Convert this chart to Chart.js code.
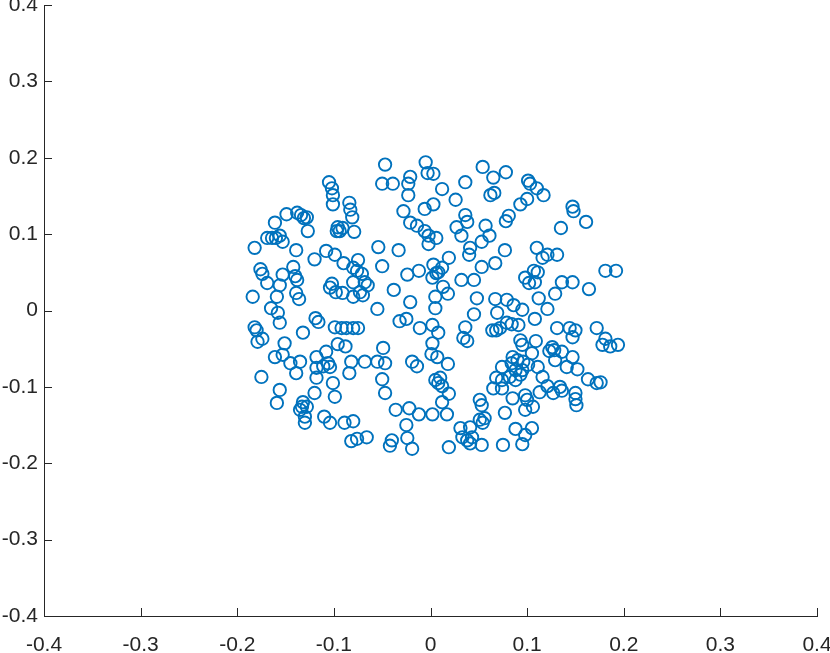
<!DOCTYPE html>
<html>
<head>
<meta charset="utf-8">
<script src="https://cdn.jsdelivr.net/npm/chart.js@4.4.1/dist/chart.umd.min.js"></script>
<style>
  html, body { margin: 0; padding: 0; background: #fff; overflow: hidden; }
  #wrap { position: absolute; left: 0; top: -20px; width: 860px; height: 673px; }
</style>
</head>
<body>
<div id="wrap"><canvas id="chart"></canvas></div>
<script>
// scatter values
const xValues = [
  -0.105, -0.102, -0.101, -0.101, -0.084, -0.083, -0.081, -0.096, -0.094, -0.097,
  -0.091, -0.079, -0.149, -0.138, -0.134, -0.131, -0.128, -0.161, -0.127, -0.169,
  -0.164, -0.160, -0.156, -0.153, -0.182, -0.139, -0.120, -0.108, -0.099, -0.090,
  -0.075, -0.080, -0.076, -0.071, -0.080, -0.068, -0.065, -0.073, -0.176, -0.174,
  -0.169, -0.153, -0.156, -0.142, -0.140, -0.138, -0.184, -0.159, -0.139, -0.136,
  -0.102, -0.104, -0.098, -0.091, -0.080, -0.070, -0.047, -0.005, -0.003, 0.003,
  0.054, 0.065, -0.050, -0.039, -0.021, -0.023, -0.023, 0.012, 0.036, 0.026,
  0.062, 0.066, -0.028, -0.006, 0.003, -0.021, -0.014, -0.006, -0.002, 0.006,
  -0.002, 0.036, 0.038, 0.027, 0.032, 0.057, 0.061, 0.053, 0.041, 0.040,
  -0.054, -0.033, -0.050, 0.019, 0.003, 0.008, 0.012, 0.002, 0.006, -0.024,
  -0.012, 0.013, 0.018, 0.005, 0.032, 0.045, 0.053, 0.067, -0.038, -0.021,
  0.048, 0.067, 0.078, 0.101, 0.103, 0.110, 0.117, 0.100, 0.093, 0.081,
  0.078, 0.147, 0.148, 0.161, 0.135, 0.077, 0.110, 0.116, 0.121, 0.131,
  0.111, 0.107, 0.098, 0.102, 0.108, 0.136, 0.147, 0.164, 0.129, 0.112,
  0.181, 0.192, 0.079, -0.165, -0.158, -0.156, -0.182, -0.180, -0.179, -0.174,
  -0.132, -0.119, -0.116, -0.099, -0.092, -0.087, -0.080, -0.075, -0.096, -0.088,
  -0.151, -0.161, -0.153, -0.145, -0.135, -0.139, -0.118, -0.108, -0.106, -0.104,
  -0.111, -0.118, -0.118, -0.082, -0.084, -0.068, -0.175, -0.156, -0.159, -0.120,
  -0.101, -0.099, -0.132, -0.133, -0.128, -0.135, -0.130, -0.130, -0.110, -0.104,
  -0.089, -0.080, -0.082, -0.076, -0.066, -0.055, 0.005, -0.032, -0.025, -0.011,
  0.002, 0.008, 0.002, 0.001, 0.007, 0.018, 0.036, 0.034, 0.038, 0.045,
  0.064, 0.068, 0.072, 0.069, -0.049, -0.055, -0.047, -0.019, -0.014, -0.050,
  -0.047, 0.005, 0.010, 0.012, 0.008, 0.019, 0.012, 0.017, 0.002, -0.012,
  -0.022, -0.036, -0.025, -0.024, -0.019, -0.040, -0.042, 0.019, 0.031, 0.041,
  0.033, 0.038, 0.043, 0.041, 0.053, 0.051, 0.053, 0.056, 0.054, 0.051,
  0.065, 0.068, 0.074, 0.074, 0.086, 0.095, 0.121, 0.108, 0.079, 0.084,
  0.091, 0.131, 0.144, 0.150, 0.147, 0.172, 0.181, 0.178, 0.186, 0.194,
  0.093, 0.095, 0.109, 0.126, 0.128, 0.136, 0.123, 0.105, 0.085, 0.090,
  0.096, 0.084, 0.088, 0.095, 0.101, 0.129, 0.147, 0.141, 0.152, 0.111,
  0.074, 0.082, 0.088, 0.093, 0.116, 0.121, 0.113, 0.127, 0.134, 0.136,
  0.163, 0.172, 0.176, 0.150, 0.150, 0.151, 0.085, 0.098, 0.100, 0.098,
  0.106, 0.077, 0.088, 0.105, 0.098, 0.095, 0.075
];
const yValues = [
  0.168, 0.160, 0.151, 0.139, 0.141, 0.132, 0.122, 0.109, 0.104, 0.104,
  0.108, 0.103, 0.126, 0.128, 0.125, 0.121, 0.122, 0.115, 0.104, 0.095,
  0.095, 0.095, 0.098, 0.090, 0.082, 0.079, 0.067, 0.078, 0.073, 0.062,
  0.066, 0.056, 0.052, 0.048, 0.037, 0.037, 0.033, 0.024, 0.054, 0.048,
  0.036, 0.047, 0.033, 0.057, 0.045, 0.040, 0.018, 0.018, 0.023, 0.015,
  0.035, 0.030, 0.024, 0.023, 0.018, 0.020, 0.191, 0.194, 0.180, 0.179,
  0.188, 0.174, 0.166, 0.166, 0.175, 0.166, 0.151, 0.159, 0.168, 0.145,
  0.151, 0.154, 0.130, 0.133, 0.139, 0.115, 0.111, 0.104, 0.098, 0.095,
  0.087, 0.125, 0.116, 0.109, 0.098, 0.111, 0.098, 0.090, 0.082, 0.073,
  0.083, 0.079, 0.058, 0.069, 0.060, 0.050, 0.056, 0.043, 0.049, 0.047,
  0.052, 0.031, 0.022, 0.018, 0.040, 0.040, 0.057, 0.062, 0.027, 0.011,
  0.016, 0.015, 0.181, 0.170, 0.166, 0.160, 0.151, 0.146, 0.139, 0.124,
  0.117, 0.136, 0.130, 0.116, 0.108, 0.079, 0.082, 0.069, 0.073, 0.073,
  0.050, 0.052, 0.043, 0.036, 0.037, 0.037, 0.037, 0.028, 0.022, 0.016,
  0.052, 0.052, 0.014, 0.003, -0.003, -0.016, -0.022, -0.026, -0.041, -0.037,
  -0.029, -0.010, -0.015, -0.022, -0.023, -0.023, -0.023, -0.023, -0.044, -0.047,
  -0.043, -0.061, -0.058, -0.069, -0.067, -0.082, -0.061, -0.054, -0.069, -0.074,
  -0.073, -0.075, -0.088, -0.067, -0.082, -0.067, -0.087, -0.104, -0.121, -0.108,
  -0.095, -0.113, -0.120, -0.126, -0.126, -0.130, -0.139, -0.147, -0.139, -0.147,
  -0.147, -0.145, -0.171, -0.168, -0.166, 0.002, 0.003, -0.014, -0.011, -0.023,
  -0.019, -0.029, -0.043, -0.057, -0.061, -0.070, -0.022, -0.036, -0.040, -0.005,
  -0.026, -0.026, -0.023, -0.003, -0.049, -0.067, -0.069, -0.067, -0.073, -0.090,
  -0.108, -0.091, -0.088, -0.099, -0.095, -0.109, -0.120, -0.136, -0.136, -0.136,
  -0.128, -0.130, -0.150, -0.167, -0.181, -0.170, -0.177, -0.179, -0.154, -0.153,
  -0.166, -0.170, -0.166, -0.174, -0.176, -0.117, -0.124, -0.141, -0.147, -0.143,
  -0.102, -0.088, -0.091, -0.102, 0.007, 0.001, 0.002, -0.011, -0.016, -0.018,
  -0.019, -0.023, -0.023, -0.026, -0.035, -0.023, -0.037, -0.045, -0.047, -0.045,
  -0.039, -0.045, -0.040, -0.048, -0.052, -0.054, -0.053, -0.056, -0.061, -0.065,
  -0.067, -0.069, -0.078, -0.078, -0.071, -0.065, -0.061, -0.074, -0.077, -0.074,
  -0.074, -0.087, -0.091, -0.084, -0.087, -0.099, -0.107, -0.108, -0.100, -0.105,
  -0.090, -0.095, -0.094, -0.108, -0.116, -0.124, -0.115, -0.111, -0.117, -0.130,
  -0.126, -0.134, -0.155, -0.154, -0.163, -0.175, -0.176
];
const xTicks = [-0.4, -0.3, -0.2, -0.1, 0, 0.1, 0.2, 0.3, 0.4];
const yTicks = [-0.4, -0.3, -0.2, -0.1, 0, 0.1, 0.2, 0.3, 0.4];

const axisColor = '#262626';
const markerColor = '#0072BD';

function makePoints(xs, ys) {
  let pts = [];
  for (let i = 0; i < xs.length; i++) {
    pts.push({x: xs[i], y: ys[i]});
  }
  return pts;
}

function tickText(v) {
  return String(Number(v.toFixed(1)));
}

// matlab style ticks, drawn inwards
const innerTicks = {
  id: 'innerTicks',
  afterDraw(chart) {
    const ctx = chart.ctx;
    const xs = chart.scales.x, ys = chart.scales.y;
    const area = chart.chartArea;
    ctx.save();
    ctx.strokeStyle = axisColor;
    ctx.lineWidth = 1;
    ctx.beginPath();
    for (const t of xTicks) {
      const px = Math.round(xs.getPixelForValue(t)) + 0.5;
      ctx.moveTo(px, area.bottom);
      ctx.lineTo(px, area.bottom - 8);
    }
    for (const t of yTicks) {
      const py = Math.round(ys.getPixelForValue(t)) + 0.5;
      ctx.moveTo(area.left, py);
      ctx.lineTo(area.left + 8, py);
    }
    ctx.stroke();
    ctx.restore();
  }
};

new Chart(document.getElementById('chart'), {
  type: 'scatter',
  data: {
    datasets: [{
      data: makePoints(xValues, yValues),
      borderColor: markerColor,
      backgroundColor: 'rgba(0,0,0,0)',
      borderWidth: 1.9,
      pointRadius: 6.2,
      pointHoverRadius: 6.2
    }]
  },
  options: {
    responsive: true,
    maintainAspectRatio: false,
    animation: false,
    events: [],
    layout: { padding: { left: 0, top: 25, right: 43, bottom: 0 } },
    plugins: { legend: { display: false }, tooltip: { enabled: false } },
    scales: {
      x: {
        type: 'linear', min: -0.4, max: 0.4,
        afterBuildTicks: s => { s.ticks = xTicks.map(v => ({value: v})); },
        afterFit: s => { s.height = 37; },
        grid: { drawOnChartArea: false, drawTicks: false },
        border: { color: axisColor, width: 1 },
        ticks: {
          color: axisColor, padding: 17, maxRotation: 0,
          font: { family: 'Liberation Sans, Arial, sans-serif', size: 21 },
          callback: v => tickText(v)
        }
      },
      y: {
        type: 'linear', min: -0.4, max: 0.4,
        afterBuildTicks: s => { s.ticks = yTicks.map(v => ({value: v})); },
        afterFit: s => { s.width = 44; },
        grid: { drawOnChartArea: false, drawTicks: false },
        border: { color: axisColor, width: 1 },
        ticks: {
          color: axisColor, padding: 6,
          font: { family: 'Liberation Sans, Arial, sans-serif', size: 21 },
          callback: v => tickText(v)
        }
      }
    }
  },
  plugins: [innerTicks]
});
</script>
</body>
</html>
